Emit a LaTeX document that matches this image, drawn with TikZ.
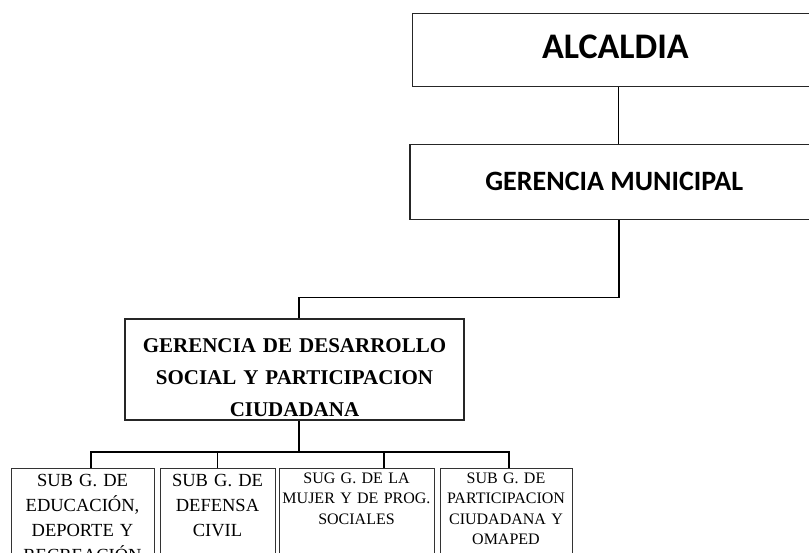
\documentclass[tikz,border=0pt]{standalone}
\usepackage{fontspec}
\setmainfont{Liberation Serif}
\newfontfamily\calibri{Carlito}
\usetikzlibrary{arrows}

\begin{document}
\begin{tikzpicture}[x=1pt, y=-1pt, >=triangle 90,
  topbox/.style={draw=black!85, inner sep=0pt, anchor=north west},
  subbox/.style={draw=black!80, line width=0.8pt, inner sep=0pt, anchor=north, align=center, text depth=110pt}]
\useasboundingbox (0,0) rectangle (809,553);
\clip (0,0) rectangle (809,553);
\begin {scope}
  \node [topbox, line width=0.8pt, minimum width=406pt, text height=45pt, text depth=28pt,
    font=\calibri\bfseries\fontsize{36}{40}\selectfont] (alcaldia) at (412,13) {ALCALDIA};
  \node [topbox, line width=1.5pt, minimum width=409pt, text height=46pt, text depth=29pt,
    font=\calibri\bfseries\fontsize{28}{32}\selectfont] (gerencia) at (409,144) {GERENCIA MUNICIPAL};
  \node [topbox, line width=2pt, text width=339pt, align=center, text height=34pt, text depth=67pt,
    font=\bfseries\fontsize{21}{32}\selectfont] (gdsoc) at (124,318)
    {GERENCIA DE DESARROLLO\\SOCIAL Y PARTICIPACION\\CIUDADANA};
  \draw [-, line width=0.8pt] ([xshift=3pt]alcaldia.south) -- ([xshift=3pt]alcaldia.south |- gerencia.north);
  \draw [-, line width=1.5pt] ([xshift=4.5pt]gerencia.south) -- ++(0,77) -| ([xshift=4.5pt]gdsoc.north);
\end {scope}
\begin {scope}
  \node [subbox, text width=143pt, text height=18pt, font=\fontsize{18.5}{25}\selectfont] (subedu) at (82.5,468)
    {SUB G. DE\\EDUCACIÓN,\\DEPORTE Y\\RECREACIÓN};
  \node [subbox, text width=115pt, text height=18pt, font=\fontsize{18.5}{25}\selectfont] (subdef) at (217.5,468)
    {SUB G. DE\\DEFENSA\\CIVIL};
  \node [subbox, text width=155pt, text height=15pt, font=\fontsize{16}{20.5}\selectfont] (submuj) at (356.5,468)
    {SUG G. DE LA\\MUJER Y DE PROG.\\SOCIALES};
  \node [subbox, text width=132pt, text height=15pt, font=\fontsize{16}{20.5}\selectfont] (subpar) at (506,468)
    {SUB G. DE\\PARTICIPACION\\CIUDADANA Y\\OMAPED};
  \draw [-, line width=2pt] ([xshift=4.5pt]gdsoc.south) -- ++(0,31) coordinate (bus);
  \draw [-, line width=2pt] ([xshift=8.5pt]subedu.north) |- (bus) -| ([xshift=3pt]subpar.north);
  \draw [-, line width=1pt] (subdef.north) -- (subdef.north |- bus);
  \draw [-, line width=2pt] ([xshift=27.5pt]submuj.north) -- ([xshift=27.5pt]submuj.north |- bus);
\end {scope}
\end{tikzpicture}
\end{document}
